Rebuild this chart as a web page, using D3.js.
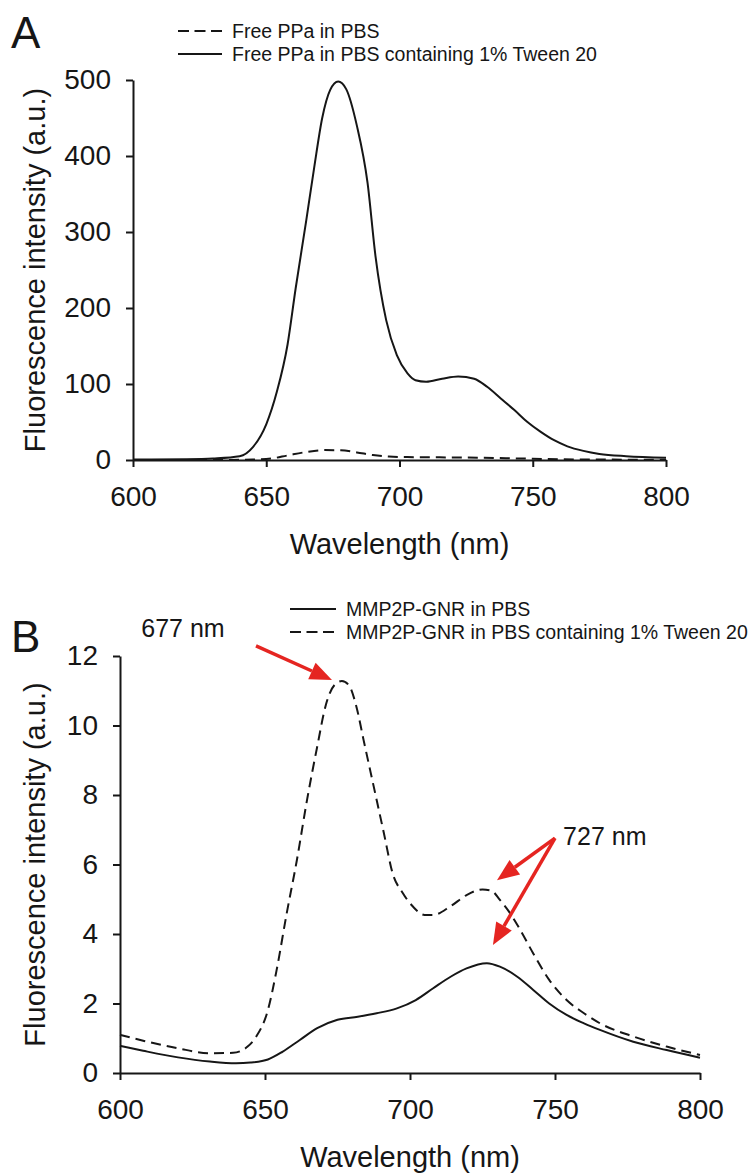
<!DOCTYPE html>
<html>
<head>
<meta charset="utf-8">
<script src="https://cdn.jsdelivr.net/npm/d3@7"></script>
<style>
  body { margin: 0; background: #fff; }
  svg { display: block; font-family: "Liberation Sans", Arial, sans-serif; }
</style>
</head>
<body>
<div class="container"></div>
<script>
let width = 753
let height = 1173

// panel A: free PPa
const xTicks = [600, 650, 700, 750, 800]
const yTicksA = [0, 100, 200, 300, 400, 500]
const wlTweenA = [600, 620, 630, 640, 645, 650, 654, 658, 661, 665, 668, 671, 674, 677, 680, 684, 688, 691, 695, 699, 703, 706, 710, 716, 722, 728, 733, 738, 743, 748, 753, 758, 763, 769, 775, 785, 800]
const tweenA = [0.5, 1, 2, 5, 17, 47, 90, 152, 225, 315, 385, 450, 487, 498, 488, 440, 365, 268, 184, 138, 114, 105, 103, 107, 110, 107, 96, 81, 66, 50, 37, 26, 18, 12, 8, 5, 3]
const wlPbsA = [600, 630, 645, 652, 658, 665, 672, 678, 684, 690, 696, 703, 715, 730, 745, 760, 780, 800]
const pbsA = [0, 0, 0.5, 2, 6, 10.5, 13, 12.8, 10, 6.5, 4.5, 3.8, 3.5, 3, 2, 1, 0.5, 0.3]
const legendA = ['Free PPa in PBS', 'Free PPa in PBS containing 1% Tween 20']

// panel B: MMP2P-GNR
const yTicksB = [0, 2, 4, 6, 8, 10, 12]
const wlTweenB = [600, 608, 620, 631, 639, 644, 647, 651, 654, 657.5, 661, 664.5, 668, 671, 674, 676.5, 679, 681.5, 684, 687.5, 691, 694, 697.5, 701, 705, 708, 714, 719.5, 725, 728, 731, 734.5, 738, 742.5, 748, 754, 760, 765.5, 777, 788.5, 800]
const tweenB = [1.1, 0.93, 0.71, 0.57, 0.58, 0.76, 1.05, 1.81, 2.96, 4.6, 6.13, 7.86, 9.39, 10.6, 11.17, 11.28, 11.15, 10.55, 9.58, 8.24, 6.9, 5.75, 5.18, 4.79, 4.55, 4.55, 4.8, 5.12, 5.28, 5.25, 4.98, 4.6, 4.12, 3.44, 2.68, 2.1, 1.72, 1.43, 1.05, 0.76, 0.52]
const wlPbsB = [600, 608, 620, 631, 640, 645, 651, 656, 662, 668, 675, 682, 688.5, 695.5, 702, 708, 714, 719.5, 726.5, 731, 737, 742.5, 748, 754, 760, 765.5, 777, 788.5, 800]
const pbsB = [0.78, 0.64, 0.45, 0.33, 0.28, 0.3, 0.39, 0.61, 0.95, 1.29, 1.53, 1.62, 1.72, 1.86, 2.1, 2.44, 2.77, 3.01, 3.16, 3.06, 2.77, 2.39, 2.0, 1.67, 1.43, 1.24, 0.9, 0.66, 0.44]
const legendB = ['MMP2P-GNR in PBS', 'MMP2P-GNR in PBS containing 1% Tween 20']

// annotations in data units: label anchor, arrow start, arrow tips
const peak1 = { label: '677 nm', at: [621.7, 12.55], from: [646.9, 12.29], tips: [[673.1, 11.31]] }
const peak2 = { label: '727 nm', at: [752.8, 6.56], from: [750, 6.76], tips: [[730, 5.55], [728.6, 3.68]] }

const ink = '#161616'
const red = '#e52521'

let svg = d3.select('.container')
    .append('svg')
    .attr('width', width)
    .attr('height', height)

svg.append('rect').attr('width', width).attr('height', height).attr('fill', '#fff')

function zip(xs, ys) {
    return xs.map((x, i) => [x, ys[i]])
}

function drawPanel(opt) {
    let x = d3.scaleLinear().domain([600, 800]).range(opt.xr)
    let y = d3.scaleLinear().domain(opt.yd).range(opt.yr)
    let g = svg.append('g')

    let line = d3.line()
        .x(d => x(d[0]))
        .y(d => y(d[1]))
        .curve(d3.curveMonotoneX)

    opt.series.forEach(s => {
        g.append('path')
            .attr('d', line(s.data))
            .attr('fill', 'none')
            .attr('stroke', ink)
            .attr('stroke-width', 2)
            .attr('stroke-dasharray', s.dash ? '10,6' : null)
    })

    let xAxis = g.append('g')
        .attr('transform', `translate(0,${opt.yr[0]})`)
        .call(d3.axisBottom(x).tickValues(xTicks).tickSize(7).tickSizeOuter(0).tickPadding(19))
    let yAxis = g.append('g')
        .attr('transform', `translate(${opt.xr[0]},0)`)
        .call(d3.axisLeft(y).tickValues(opt.yticks).tickSize(7).tickSizeOuter(0).tickPadding(15))

    ;[xAxis, yAxis].forEach(a => {
        a.selectAll('path, line').attr('stroke', ink).attr('stroke-width', 2)
        a.selectAll('text').attr('fill', ink).style('font-size', '28px')
            .style('font-family', '"Liberation Sans", Arial, sans-serif')
    })

    g.append('text')
        .attr('x', (opt.xr[0] + opt.xr[1]) / 2)
        .attr('y', opt.yr[0] + 94)
        .attr('text-anchor', 'middle')
        .attr('fill', ink)
        .style('font-size', '29px')
        .text('Wavelength (nm)')

    g.append('text')
        .attr('transform', `translate(45,${(opt.yr[0] + opt.yr[1]) / 2}) rotate(-90)`)
        .attr('text-anchor', 'middle')
        .attr('fill', ink)
        .style('font-size', '29px')
        .text('Fluorescence intensity (a.u.)')

    // panel letter
    g.append('text')
        .attr('x', 11)
        .attr('y', opt.letterY)
        .attr('fill', ink)
        .style('font-size', '44px')
        .text(opt.letter)

    // legend
    opt.legend.forEach((txt, i) => {
        let ly = opt.legendY + i * 23
        g.append('line')
            .attr('x1', opt.legendX).attr('x2', opt.legendX + opt.legendLen)
            .attr('y1', ly).attr('y2', ly)
            .attr('stroke', ink).attr('stroke-width', 2)
            .attr('stroke-dasharray', opt.legendDash[i] ? '11,5.5' : null)
        g.append('text')
            .attr('x', opt.legendX + opt.legendLen + 10)
            .attr('y', ly)
            .attr('dy', '0.35em')
            .attr('fill', ink)
            .style('font-size', '19.5px')
            .text(txt)
    })

    return { x, y, g }
}

let A = drawPanel({
    xr: [133, 666], yd: [0, 500], yr: [460, 80], yticks: yTicksA,
    series: [
        { data: zip(wlPbsA, pbsA), dash: true },
        { data: zip(wlTweenA, tweenA), dash: false }
    ],
    letter: 'A', letterY: 48,
    legend: legendA, legendDash: [true, false], legendX: 178, legendLen: 44, legendY: 31
})

let B = drawPanel({
    xr: [120, 700], yd: [0, 12], yr: [1073, 656], yticks: yTicksB,
    series: [
        { data: zip(wlPbsB, pbsB), dash: false },
        { data: zip(wlTweenB, tweenB), dash: true }
    ],
    letter: 'B', letterY: 652,
    legend: legendB, legendDash: [false, true], legendX: 290, legendLen: 46, legendY: 609
})

function arrow(g, x1, y1, x2, y2) {
    let ang = Math.atan2(y2 - y1, x2 - x1)
    let len = 22, half = 9
    let bx = x2 - len * Math.cos(ang), by = y2 - len * Math.sin(ang)
    g.append('line')
        .attr('x1', x1).attr('y1', y1).attr('x2', bx).attr('y2', by)
        .attr('stroke', red).attr('stroke-width', 3.5)
    let px = -Math.sin(ang) * half, py = Math.cos(ang) * half
    g.append('path')
        .attr('d', `M${x2},${y2}L${bx + px},${by + py}L${bx - px},${by - py}Z`)
        .attr('fill', red)
}

;[peak1, peak2].forEach((p, i) => {
    let g = B.g
    p.tips.forEach(t => arrow(g, B.x(p.from[0]), B.y(p.from[1]), B.x(t[0]), B.y(t[1])))
    g.append('text')
        .attr('x', B.x(p.at[0]))
        .attr('y', B.y(p.at[1]))
        .attr('text-anchor', i === 0 ? 'middle' : 'start')
        .attr('fill', ink)
        .style('font-size', '25px')
        .text(p.label)
})
</script>
</body>
</html>
